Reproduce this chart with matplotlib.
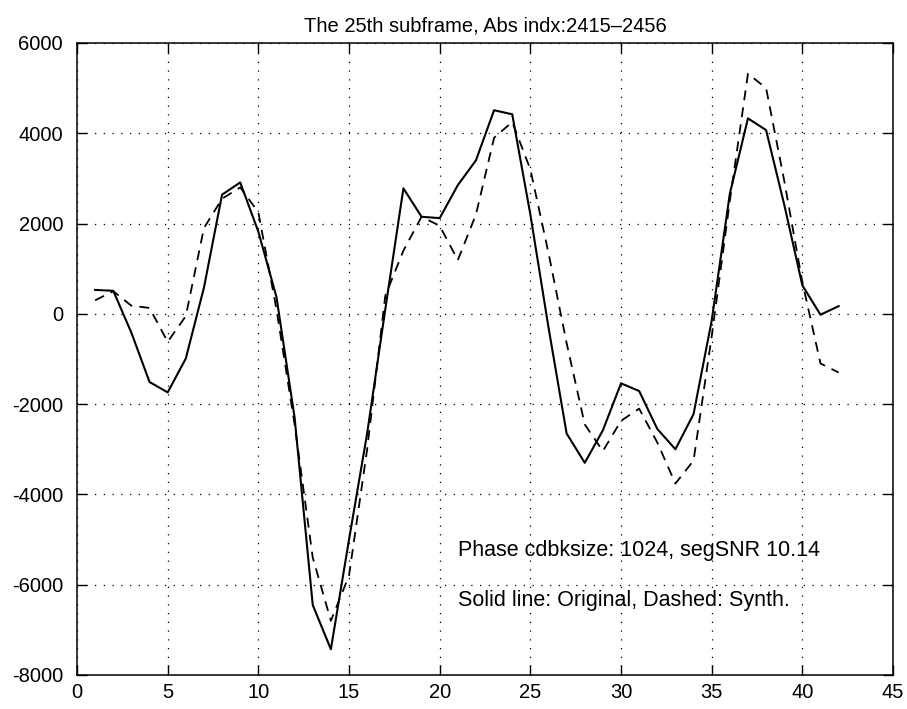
import numpy as np
import matplotlib
matplotlib.use('Agg')
import matplotlib.pyplot as plt

# sample index within the subframe
idx = np.arange(1, 43)

# original signal (solid)
original = [530, 510, -420, -1510, -1740, -990, 580, 2640, 2910, 1820,
            370, -2300, -6450, -7430, -5000, -2650, 100, 2780, 2150, 2120,
            2850, 3400, 4510, 4420, 2200, -300, -2650, -3300, -2580, -1540,
            -1710, -2550, -3000, -2220, -150, 2660, 4330, 4070, 2420, 630,
            -20, 170]

# synthesized signal (dashed)
synth = [300, 500, 180, 130, -620, -50, 1900, 2550, 2800, 2250,
         100, -2450, -5400, -6800, -5800, -3000, 400, 1400, 2150, 1950,
         1190, 2200, 3900, 4250, 3200, 1350, -650, -2450, -3040, -2370,
         -2100, -2850, -3760, -3250, -500, 2500, 5320, 5000, 2950, 700,
         -1100, -1300]

xticks = [0, 5, 10, 15, 20, 25, 30, 35, 40, 45]
yticks = [-8000, -6000, -4000, -2000, 0, 2000, 4000, 6000]

title = 'The 25th subframe, Abs indx:2415\u20132456'
note1 = 'Phase cdbksize: 1024, segSNR 10.14'
note2 = 'Solid line: Original, Dashed: Synth.'

plt.rcParams['font.family'] = ['Liberation Sans', 'DejaVu Sans']
plt.rcParams['axes.unicode_minus'] = False

fig = plt.figure(figsize=(9.07, 7.09), dpi=100)
ax = fig.add_axes([0.0849, 0.048, 0.8997, 0.8914])

ax.plot(idx, original, color='black', linewidth=1.5, linestyle='-')
ax.plot(idx, synth, color='black', linewidth=1.3, linestyle=(0, (5.5, 4)))

ax.set_xlim(0, 45)
ax.set_ylim(-8000, 6000)
ax.set_xticks(xticks)
ax.set_yticks(yticks)
ax.tick_params(direction='in', length=7, width=1, top=True, right=True,
               labelsize=14.5, colors='black')
ax.tick_params(axis='y', pad=10)
ax.tick_params(axis='x', pad=6)

# matlab style dotted grid
ax.grid(True, color='black', linestyle=(0, (1, 6)), linewidth=0.9)

for s in ax.spines.values():
    s.set_linewidth(1.1)
    s.set_color('black')

ax.set_title(title, fontsize=14.5, pad=8)

ax.text(21, -5250, note1, fontsize=15.5, ha='left', va='center')
ax.text(21, -6350, note2, fontsize=15.5, ha='left', va='center')

fig.savefig('out.png', dpi=100)
